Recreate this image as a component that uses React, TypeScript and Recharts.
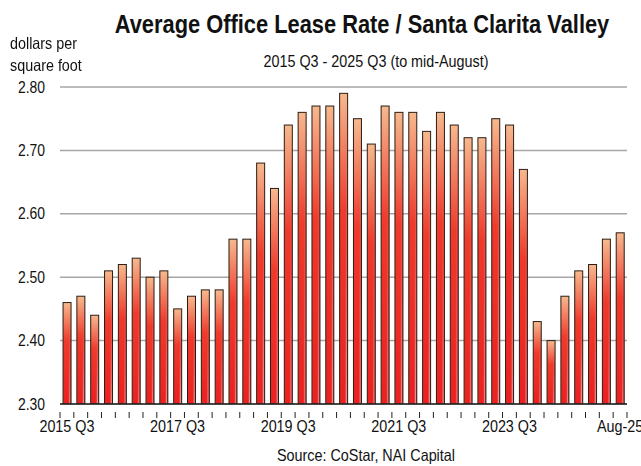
import React from 'react';
import { BarChart, Bar, XAxis, YAxis, CartesianGrid } from 'recharts';

// quarterly average office lease rate, $/sq ft
const quarters = [
  '2015 Q3', '2015 Q4',
  '2016 Q1', '2016 Q2', '2016 Q3', '2016 Q4',
  '2017 Q1', '2017 Q2', '2017 Q3', '2017 Q4',
  '2018 Q1', '2018 Q2', '2018 Q3', '2018 Q4',
  '2019 Q1', '2019 Q2', '2019 Q3', '2019 Q4',
  '2020 Q1', '2020 Q2', '2020 Q3', '2020 Q4',
  '2021 Q1', '2021 Q2', '2021 Q3', '2021 Q4',
  '2022 Q1', '2022 Q2', '2022 Q3', '2022 Q4',
  '2023 Q1', '2023 Q2', '2023 Q3', '2023 Q4',
  '2024 Q1', '2024 Q2', '2024 Q3', '2024 Q4',
  '2025 Q1', '2025 Q2', 'Aug-25',
];

const rates = [
  2.46, 2.47,
  2.44, 2.51, 2.52, 2.53,
  2.50, 2.51, 2.45, 2.47,
  2.48, 2.48, 2.56, 2.56,
  2.68, 2.64, 2.74, 2.76,
  2.77, 2.77, 2.79, 2.75,
  2.71, 2.77, 2.76, 2.76,
  2.73, 2.76, 2.74, 2.72,
  2.72, 2.75, 2.74, 2.67,
  2.43, 2.40, 2.47, 2.51,
  2.52, 2.56, 2.57,
];

const labeledQuarters = ['2015 Q3', '2017 Q3', '2019 Q3', '2021 Q3', '2023 Q3', 'Aug-25'];
const yTicks = [2.3, 2.4, 2.5, 2.6, 2.7, 2.8];

const data = quarters.map((q, i) => ({ quarter: q, rate: rates[i] }));

// no narrow font installed, so squeeze Liberation Sans horizontally
const FONT = '"Liberation Sans", Arial, sans-serif';
const NARROW = 0.87;

const GlossyBar = (props: any) => {
  const { x, y, width, height } = props;
  if (!height || height <= 0) return null;
  return (
    <g>
      <rect x={x} y={y} width={width} height={height} fill="url(#barVert)" />
      <rect x={x} y={y} width={width} height={height} fill="url(#barSheen)" mask="url(#sheenMask)" />
      <rect x={x} y={y} width={width} height={height} fill="none" stroke="#2b1d14" strokeWidth={1} />
    </g>
  );
};

// tick marks go between the bars (Excel style); labels only on a few quarters
const QuarterTick = (props: any) => {
  const { x, y, payload, index } = props;
  const half = payload?.offset ?? 0;
  const label = labeledQuarters.includes(payload.value) ? payload.value : '';
  return (
    <g>
      <line x1={x - half} x2={x - half} y1={y} y2={y + 6} stroke="#222" />
      {index === quarters.length - 1 && (
        <line x1={x + half} x2={x + half} y1={y} y2={y + 6} stroke="#222" />
      )}
      {label && (
        <text
          transform={`translate(${x},${y + 8}) scale(${NARROW},1)`}
          dy="0.71em"
          textAnchor="middle"
          fill="#111"
          fontSize={16.5}
          fontFamily={FONT}
        >
          {label}
        </text>
      )}
    </g>
  );
};

const RateTick = (props: any) => {
  const { x, y, payload } = props;
  return (
    <text
      transform={`translate(${x},${y}) scale(${NARROW},1)`}
      dy="0.355em"
      textAnchor="end"
      fill="#111"
      fontSize={16}
      fontFamily={FONT}
    >
      {payload.value.toFixed(2)}
    </text>
  );
};

const Label = ({ cx, top, size, bold, squeeze = NARROW, children }: any) => (
  <div
    style={{
      position: 'absolute',
      left: cx,
      top,
      fontSize: size,
      fontWeight: bold ? 'bold' : 'normal',
      whiteSpace: 'nowrap',
      transform: `translateX(-50%) scaleX(${squeeze})`,
    }}
  >
    {children}
  </div>
);

export default function App() {
  return (
    <div style={{ position: 'absolute', left: 0, top: 0, width: 641, height: 466, background: '#fff', color: '#111', fontFamily: FONT, overflow: 'hidden' }}>
      <Label cx={362} top={9} size={26} bold squeeze={0.84}>
        Average Office Lease Rate / Santa Clarita Valley
      </Label>
      <div style={{ position: 'absolute', left: 10, top: 32, fontSize: 16.5, lineHeight: '22px', whiteSpace: 'nowrap', transform: `scaleX(${NARROW})`, transformOrigin: 'left top' }}>
        dollars per<br />square foot
      </div>
      <Label cx={376} top={52} size={16.5}>
        2015 Q3 - 2025 Q3 (to mid-August)
      </Label>
      <Label cx={366} top={446} size={16.5}>
        Source: CoStar, NAI Capital
      </Label>

      <BarChart
        width={641}
        height={466}
        data={data}
        margin={{ top: 87, right: 14, left: 10, bottom: 32 }}
        barCategoryGap="22%"
        style={{ position: 'absolute', left: 0, top: 0 }}
      >
        <defs>
          <linearGradient id="barVert" x1="0" y1="0" x2="0" y2="1">
            <stop offset="0%" stopColor="#f6b98e" />
            <stop offset="38%" stopColor="#ef3a2c" />
            <stop offset="100%" stopColor="#ec2020" />
          </linearGradient>
          <linearGradient id="barSheen" x1="0" y1="0" x2="1" y2="0">
            <stop offset="0%" stopColor="#e8c060" stopOpacity={0.5} />
            <stop offset="15%" stopColor="#ec2222" stopOpacity={0} />
            <stop offset="60%" stopColor="#ec2222" stopOpacity={0} />
            <stop offset="85%" stopColor="#d8b0b0" stopOpacity={0.9} />
            <stop offset="100%" stopColor="#ec2222" stopOpacity={0.2} />
          </linearGradient>
          <linearGradient id="sheenFade" x1="0" y1="0" x2="0" y2="1">
            <stop offset="0%" stopColor="#fff" stopOpacity={0} />
            <stop offset="50%" stopColor="#fff" stopOpacity={0.3} />
            <stop offset="100%" stopColor="#fff" stopOpacity={1} />
          </linearGradient>
          <mask id="sheenMask" maskContentUnits="objectBoundingBox">
            <rect x={0} y={0} width={1} height={1} fill="url(#sheenFade)" />
          </mask>
        </defs>
        <CartesianGrid vertical={false} stroke="#a6a6a6" strokeWidth={1.5} />
        <XAxis
          dataKey="quarter"
          interval={0}
          height={30}
          tickLine={false}
          axisLine={{ stroke: '#222', strokeWidth: 1.5 }}
          tick={QuarterTick}
        />
        <YAxis
          width={50}
          domain={[2.3, 2.8]}
          ticks={yTicks}
          allowDataOverflow
          axisLine={false}
          tickLine={false}
          tickMargin={9}
          tick={RateTick}
        />
        <Bar dataKey="rate" shape={GlossyBar} isAnimationActive={false} />
      </BarChart>
    </div>
  );
}
